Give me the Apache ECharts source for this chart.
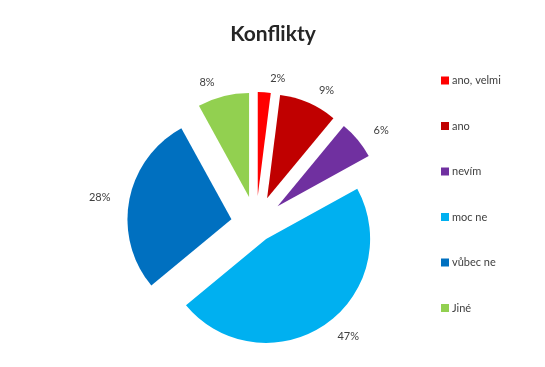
<!DOCTYPE html>
<html><head><meta charset="utf-8">
<script src="https://cdn.jsdelivr.net/npm/echarts@6/dist/echarts.min.js"></script>
<style>html,body{margin:0;padding:0;background:#fff}#c{width:545px;height:367px}</style>
</head><body><div id="c"></div>
<script>
const categories = ['ano, velmi', 'ano', 'nevím', 'moc ne', 'vůbec ne', 'Jiné'];
const values = [2, 9, 6, 47, 28, 8];
const colors = ['#FF0000', '#C00000', '#7030A0', '#00B0F0', '#0070C0', '#92D050'];
const offsets = [28, 28, 28, 18, 25, 28];

const chart = echarts.init(document.getElementById('c'));
const font = 'Lato, "Noto Sans", sans-serif';
const series = categories.map((_, i) => ({
  type: 'pie',
  center: [256, 224],
  radius: 104,
  startAngle: 90,
  clockwise: true,
  silent: true,
  animation: false,
  selectedMode: 'multiple',
  selectedOffset: offsets[i],
  labelLine: { show: false, length: 14, length2: 0 },
  label: { position: 'outside', formatter: '{d}%', color: '#404040', fontSize: 11, fontFamily: font },
  labelLayout: { hideOverlap: false },
  avoidLabelOverlap: false,
  data: categories.map((name, j) => ({
    name,
    value: values[j],
    selected: true,
    itemStyle: { color: j === i ? colors[j] : 'rgba(0,0,0,0)' },
    label: { show: j === i }
  }))
}));

chart.setOption({
  animation: false,
  title: {
    text: 'Konflikty', left: 268, top: 19, textAlign: 'center',
    textStyle: { fontSize: 21, fontWeight: 'bold', color: '#262626', fontFamily: font }
  },
  legend: {
    orient: 'vertical', left: 436, top: 70,
    itemWidth: 8, itemHeight: 8, itemGap: 34.5, icon: 'rect',
    textStyle: { fontSize: 11, color: '#404040', fontFamily: font, padding: [0, 0, 0, -2] },
    selectedMode: false,
    data: categories.map((name, j) => ({ name, itemStyle: { color: colors[j] } }))
  },
  series
});
</script></body></html>
